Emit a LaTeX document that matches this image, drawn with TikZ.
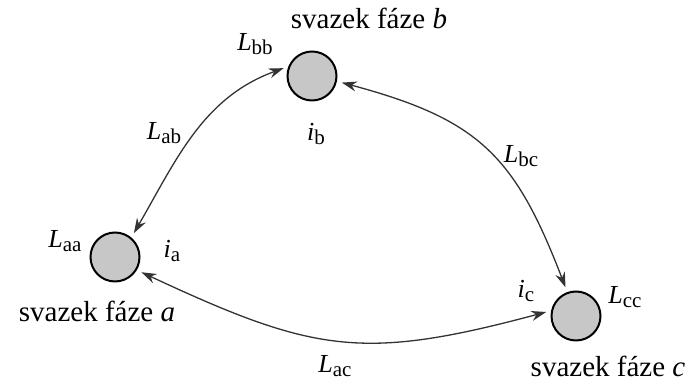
\documentclass[tikz,border=0pt]{standalone}
\usepackage{fontspec}
\setmainfont{Liberation Serif}
\usetikzlibrary{arrows.meta}

\newcommand{\quant}[2]{\textit{#1}\raisebox{-0.4ex}{\fontsize{10.5}{11}\selectfont #2}}

\tikzset{
  phase/.style={circle,draw=black,line width=1pt,fill=black!22,minimum size=24.5pt,inner sep=0pt},
  link/.style={{Stealth[length=7.5pt,width=5pt]}-{Stealth[length=7.5pt,width=5pt]},draw=black!80,line width=0.65pt,shorten <=2.5pt,shorten >=2.5pt},
  lbl/.style={inner sep=0pt,font=\fontsize{13}{15}\selectfont},
  phasename/.style={inner sep=0pt,font=\fontsize{14.5}{16}\selectfont}
}

\begin{document}
\begin{tikzpicture}[x=0.5pt,y=-0.5pt]
\useasboundingbox (0,0) rectangle (690,383);

\node[phase] (a) at (115,257) {};
\node[phase] (b) at (312,76) {};
\node[phase] (c) at (576,316) {};

\node[phasename] (ta) at (97,311) {svazek fáze \textit{a}};
\node[phasename] (tb) at (369,18) {svazek fáze \textit{b}};
\node[phasename] (tc) at (608,366) {svazek fáze \textit{c}};

\node[lbl] (Laa) at (65,241) {\quant{L}{aa}};
\node[lbl] (Lbb) at (255,44) {\quant{L}{bb}};
\node[lbl] (Lcc) at (625,297) {\quant{L}{cc}};
\node[lbl] (Lab) at (164,133) {\quant{L}{ab}};
\node[lbl] (Lbc) at (521,156) {\quant{L}{bc}};
\node[lbl] (Lac) at (335,366) {\quant{L}{ac}};
\node[lbl] (ia) at (172,251) {\quant{i}{a}};
\node[lbl] (ib) at (316,134) {\quant{i}{b}};
\node[lbl] (ic) at (526,291) {\quant{i}{c}};

\draw[link] (a.50) to[out=60,in=200] (b.158);
\draw[link] (b.-12) to[out=-15,in=111,looseness=1.2] (c.110);
\draw[link] (a.-31) to[out=-25,in=195,looseness=1.2] (c.168);
\end{tikzpicture}
\end{document}
